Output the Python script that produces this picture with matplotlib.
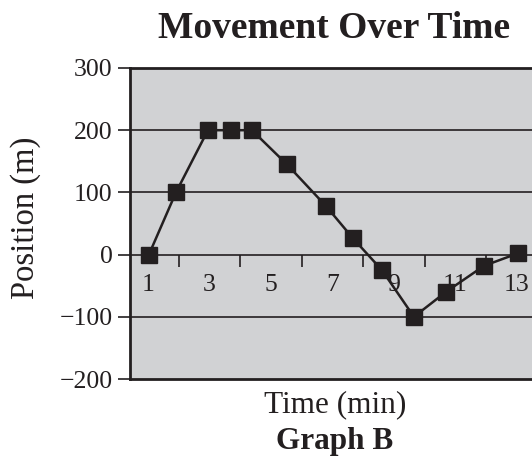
import matplotlib
matplotlib.use('Agg')
import matplotlib.pyplot as plt

# Data
time_min = [1.03, 1.91, 2.95, 3.70, 4.38, 5.52, 6.79, 7.67, 8.61, 9.65, 10.69, 11.93, 13.03]
position_m = [0, 100, 200, 200, 200, 145, 78, 26, -25, -100, -60, -18, 2]
x_label_ticks = [1, 3, 5, 7, 9, 11, 13]
x_mark_ticks = [2, 4, 6, 8, 10, 12]
y_ticks = [-200, -100, 0, 100, 200, 300]
y_tick_labels = ['\u2212200', '\u2212100', '0', '100', '200', '300']
y_grid = [-100, 100, 200]

plt.rcParams['font.family'] = ['Liberation Serif', 'DejaVu Serif']
ink = '#231f20'

fig = plt.figure(figsize=(5.32, 4.58), dpi=100)
ax = fig.add_axes([130/532, 1 - 379/458, 410/532, 311/458])
ax.set_facecolor('#d1d2d4')
ax.set_xlim(0.415, 13.75)
ax.set_ylim(-200, 300)

for g in y_grid:
    ax.axhline(g, color=ink, lw=1.2, zorder=1)

ax.spines['bottom'].set_position(('data', 0))
ax.spines['bottom'].set_linewidth(1.2)
ax.spines['bottom'].set_color(ink)
ax.spines['right'].set_visible(False)
ax.spines['left'].set_linewidth(2)
ax.spines['left'].set_color(ink)
ax.spines['top'].set_linewidth(2)
ax.spines['top'].set_color(ink)
ax.axhline(-200, color=ink, lw=2, clip_on=False, zorder=2.5)

ax.plot(time_min, position_m, color=ink, lw=1.8, marker='s', ms=11,
        markeredgecolor=ink, zorder=3, clip_on=False)

ax.set_xticks(x_mark_ticks)
ax.set_xticklabels([])
ax.set_xticks(x_label_ticks, minor=True, labels=[str(v) for v in x_label_ticks])
ax.tick_params(axis='x', which='major', direction='out', length=8.6, width=1.2, color=ink)
ax.tick_params(axis='x', which='minor', length=0, pad=14, labelsize=18.5, labelcolor=ink)

ax.set_yticks(y_ticks, labels=y_tick_labels)
ax.tick_params(axis='y', direction='out', length=8.6, width=1.2, color=ink,
               pad=4, labelsize=18.5, labelcolor=ink)

fig.text(334/532, 1 - 28/458, 'Movement Over Time', fontsize=27, fontweight='bold',
         ha='center', va='center', color=ink)
fig.text(26/532, 1 - 218/458, 'Position (m)', fontsize=23.5, rotation=90,
         ha='center', va='center', color=ink)
fig.text(335/532, 1 - 405/458, 'Time (min)', fontsize=22.5,
         ha='center', va='center', color=ink)
fig.text(335/532, 1 - 441/458, 'Graph B', fontsize=22.5, fontweight='bold',
         ha='center', va='center', color=ink)

fig.savefig('out.png', dpi=100)
